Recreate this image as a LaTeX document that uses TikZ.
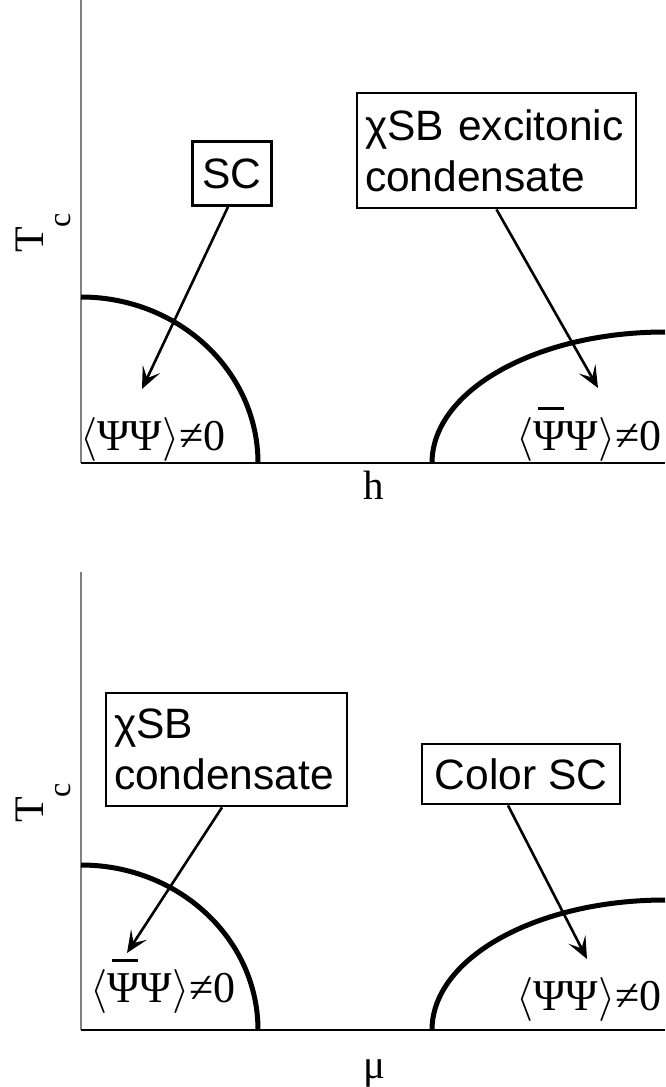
\RequirePackage{fix-cm}
\documentclass[tikz,border=0pt]{standalone}
\usepackage{fontspec}
\setmainfont{Liberation Sans}
\newfontfamily\serifG{Liberation Serif}
\usetikzlibrary{arrows.meta}
\newcommand\barpsi{\rlap{\hspace{0.11em}\rule[0.9em]{0.58em}{0.08em}}Ψ}
\begin{document}
\begin{tikzpicture}[x=1pt,y=-1pt,
  labelbox/.style={draw=black,line width=2.8pt,inner ysep=0pt,inner xsep=8pt,font=\fontsize{42.5}{51}\selectfont},
  pointer/.style={line width=2.6pt,-{Stealth[length=22pt,width=19pt,inset=10pt]}},
  phase/.style={line width=5pt},
  vaxis/.style={draw=black!50,line width=1.5pt},
  haxis/.style={draw=black,line width=1.5pt},
  mathlbl/.style={inner sep=0pt,anchor=base west,font=\serifG\fontsize{44}{44}\selectfont},
  axlbl/.style={inner sep=0pt,font=\serifG\fontsize{41}{41}\selectfont},
  tclbl/.style={inner sep=0pt,anchor=base west,rotate=90}]
\useasboundingbox (0,0) rectangle (665,1087);
\fill[white] (0,0) rectangle (665,1087);

% ---------- top panel ----------
\coordinate (o1) at (81,463);
\coordinate (yt1) at (81,0);
\coordinate (xe1) at (665,463);
\draw[vaxis] (yt1) -- (o1);
\draw[haxis] (o1) -- (xe1);
\draw[phase] (81,297) arc[start angle=-90,end angle=0,x radius=177,y radius=166];
\draw[phase] (432,463) arc[start angle=180,end angle=270,x radius=233,y radius=131];

\node[labelbox,minimum width=79pt,minimum height=64pt] (sc) at (232,173.5) {SC};
\node[labelbox,minimum width=279pt,minimum height=115pt,align=left,text width=263pt] (xsb) at (496.5,150.5) {χSB excitonic\\condensate};

\node[mathlbl] (l1) at (80,450) {$\langle$ΨΨ$\rangle$≠0};
\node[mathlbl] (r1) at (516,450) {$\langle$\barpsi Ψ$\rangle$≠0};

\coordinate (t1) at (142,389);
\coordinate (t2) at (598,388);
\draw[pointer] ([xshift=-4pt]sc.south) -- (t1);
\draw[pointer] (xsb.south) -- (t2);

\node[axlbl,anchor=base] (h) at (374,499) {h};
\node[tclbl] (tc1) at (43,253) {\serifG\fontsize{42}{42}\selectfont T\raisebox{-27pt}{\fontsize{32}{32}\selectfont c}};

% ---------- bottom panel ----------
\coordinate (o2) at (81,1030);
\coordinate (yt2) at (81,572);
\coordinate (xe2) at (665,1030);
\draw[vaxis] (yt2) -- (o2);
\draw[haxis] (o2) -- (xe2);
\draw[phase] (81,865) arc[start angle=-90,end angle=0,x radius=177,y radius=165];
\draw[phase] (432,1030) arc[start angle=180,end angle=270,x radius=233,y radius=130];

\node[labelbox,minimum width=241pt,minimum height=113pt,align=left,text width=225pt] (xsc) at (226.5,749.5) {χSB\\condensate};
\node[labelbox,minimum width=198pt,minimum height=60pt] (csc) at (521,774) {Color SC};

\node[mathlbl] (l2) at (90,1002) {$\langle$\barpsi Ψ$\rangle$≠0};
\node[mathlbl] (r2) at (516,1010) {$\langle$ΨΨ$\rangle$≠0};

\coordinate (t3) at (127,953);
\coordinate (t4) at (587,959);
\draw[pointer] ([xshift=-4.5pt]xsc.south) -- (t3);
\draw[pointer] ([xshift=-13pt]csc.south) -- (t4);

\node[axlbl,anchor=base] (mu) at (374,1078) {μ};
\node[tclbl] (tc2) at (43,823) {\serifG\fontsize{42}{42}\selectfont T\raisebox{-27pt}{\fontsize{32}{32}\selectfont c}};
\end{tikzpicture}
\end{document}
